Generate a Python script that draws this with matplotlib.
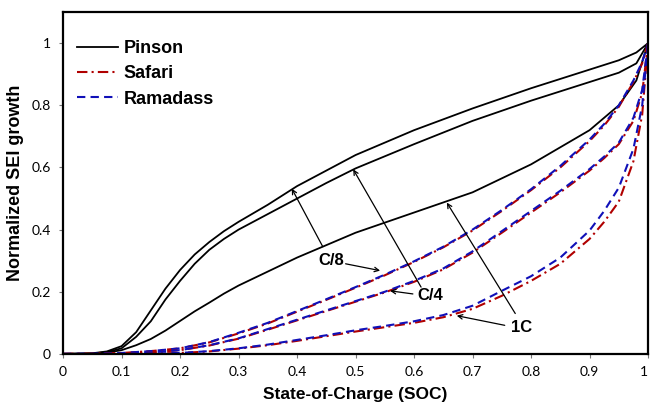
import matplotlib
matplotlib.use('Agg')
import matplotlib.pyplot as plt

# state of charge grid for the Pinson curves
soc_pinson = [0, 0.05, 0.075, 0.1, 0.125, 0.15, 0.175, 0.2, 0.225, 0.25, 0.275, 0.3, 0.35,
              0.4, 0.45, 0.5, 0.6, 0.7, 0.8, 0.9, 0.95, 0.98, 1.0]
pinson_c8 = [0, 0.002, 0.008, 0.025, 0.07, 0.14, 0.21, 0.27, 0.32, 0.36, 0.395, 0.425, 0.48,
             0.54, 0.59, 0.64, 0.72, 0.79, 0.855, 0.915, 0.945, 0.97, 1.0]
pinson_c4 = [0, 0.001, 0.006, 0.018, 0.055, 0.105, 0.175, 0.235, 0.29, 0.335, 0.37, 0.40, 0.45,
             0.50, 0.55, 0.597, 0.675, 0.75, 0.815, 0.875, 0.905, 0.935, 1.0]
pinson_1c = [0, 0.001, 0.004, 0.012, 0.028, 0.048, 0.075, 0.106, 0.137, 0.165, 0.194, 0.22, 0.265,
             0.31, 0.35, 0.39, 0.455, 0.52, 0.61, 0.72, 0.80, 0.88, 1.0]

# state of charge grid for Safari / Ramadass curves
soc_model = [0, 0.05, 0.1, 0.15, 0.2, 0.25, 0.3, 0.35, 0.4, 0.45, 0.5, 0.55,
             0.6, 0.65, 0.7, 0.75, 0.8, 0.85, 0.9, 0.925, 0.95, 0.975, 0.99, 1.0]
ramadass_c8 = [0, 0, 0.003, 0.009, 0.018, 0.038, 0.068, 0.1, 0.138, 0.176, 0.215, 0.255,
               0.298, 0.345, 0.40, 0.463, 0.53, 0.605, 0.69, 0.74, 0.80, 0.88, 0.94, 1.0]
safari_c8 = [0, 0, 0.003, 0.009, 0.018, 0.037, 0.066, 0.098, 0.136, 0.174, 0.213, 0.253,
             0.296, 0.343, 0.397, 0.46, 0.527, 0.60, 0.685, 0.735, 0.795, 0.875, 0.935, 1.0]
ramadass_c4 = [0, 0, 0.001, 0.005, 0.012, 0.028, 0.05, 0.08, 0.11, 0.14, 0.17, 0.20,
               0.235, 0.275, 0.33, 0.395, 0.46, 0.525, 0.595, 0.635, 0.68, 0.76, 0.85, 1.0]
safari_c4 = [0, 0, 0.001, 0.005, 0.012, 0.027, 0.049, 0.078, 0.108, 0.138, 0.168, 0.198,
             0.232, 0.272, 0.326, 0.39, 0.455, 0.52, 0.59, 0.63, 0.675, 0.75, 0.84, 1.0]
ramadass_1c = [0, 0, 0, 0.001, 0.003, 0.009, 0.018, 0.03, 0.045, 0.06, 0.076, 0.09,
               0.105, 0.125, 0.155, 0.203, 0.25, 0.31, 0.397, 0.46, 0.535, 0.66, 0.80, 1.0]
safari_1c = [0, 0, 0, 0.001, 0.003, 0.008, 0.017, 0.028, 0.042, 0.057, 0.072, 0.086,
             0.10, 0.118, 0.145, 0.187, 0.235, 0.29, 0.37, 0.425, 0.49, 0.62, 0.77, 1.0]

x_ticks = [0, 0.1, 0.2, 0.3, 0.4, 0.5, 0.6, 0.7, 0.8, 0.9, 1.0]
x_tick_labels = ['0', '0.1', '0.2', '0.3', '0.4', '0.5', '0.6', '0.7', '0.8', '0.9', '1']
y_ticks = [0, 0.2, 0.4, 0.6, 0.8, 1.0]
y_tick_labels = ['0', '0.2', '0.4', '0.6', '0.8', '1']

# annotations: label, text position, list of arrow targets (head, tail)
annotations = [
    ('C/8', (0.458, 0.30), [((0.391, 0.532), (0.444, 0.345)), ((0.542, 0.268), (0.483, 0.29))]),
    ('C/4', (0.627, 0.187), [((0.496, 0.594), (0.612, 0.215)), ((0.559, 0.203), (0.598, 0.193))]),
    ('1C', (0.783, 0.084), [((0.656, 0.487), (0.773, 0.13)), ((0.673, 0.123), (0.755, 0.092))]),
]

red = '#B00000'
blue = '#1010B8'

fig = plt.figure(figsize=(6.5, 4.04), dpi=100)
ax = fig.add_axes([0.097, 0.124, 0.9, 0.846])

# pinson curves (solid black)
ax.plot(soc_pinson, pinson_c8, color='k', lw=1.3, label='Pinson')
ax.plot(soc_pinson, pinson_c4, color='k', lw=1.3)
ax.plot(soc_pinson, pinson_1c, color='k', lw=1.3)

# safari (dash-dot red) and ramadass (dashed blue)
for s, r in [(safari_c8, ramadass_c8), (safari_c4, ramadass_c4), (safari_1c, ramadass_1c)]:
    ax.plot(soc_model, s, color=red, lw=1.5, dashes=(5, 2, 1, 2),
            label='Safari' if s is safari_c8 else None)
    ax.plot(soc_model, r, color=blue, lw=1.5, dashes=(4, 2.5),
            label='Ramadass' if r is ramadass_c8 else None)

# arrows and rate labels
for label, pos, arrows in annotations:
    ax.text(pos[0], pos[1], label, fontsize=12, fontweight='bold',
            family='Liberation Sans', ha='center', va='center')
    for head, tail in arrows:
        ax.annotate('', xy=head, xytext=tail,
                    arrowprops=dict(arrowstyle='->', color='k', lw=0.9,
                                    shrinkA=0, shrinkB=0, mutation_scale=8))

ax.set_xlim(0, 1)
ax.set_ylim(0, 1.1)
ax.set_xticks(x_ticks)
ax.set_xticklabels(x_tick_labels, family='Lato', fontsize=10)
ax.get_xticklabels()[-1].set_ha('right')
ax.set_yticks(y_ticks)
ax.set_yticklabels(y_tick_labels, family='Lato', fontsize=10)
ax.tick_params(direction='out', length=3, width=0.8, color='#777777', pad=6)

for sp in ax.spines.values():
    sp.set_linewidth(1.6)

ax.set_xlabel('State-of-Charge (SOC)', fontsize=12.5, fontweight='bold',
              family='Liberation Sans', labelpad=6)
ax.set_ylabel('Normalized SEI growth', fontsize=13, fontweight='bold',
              family='Liberation Sans', labelpad=5)

leg = ax.legend(loc='upper left', bbox_to_anchor=(-0.004, 0.965), frameon=False,
                handlelength=2.3, handletextpad=0.3, labelspacing=0.45,
                prop={'family': 'Liberation Sans', 'weight': 'bold', 'size': 13})

fig.savefig('out.png', dpi=100)
